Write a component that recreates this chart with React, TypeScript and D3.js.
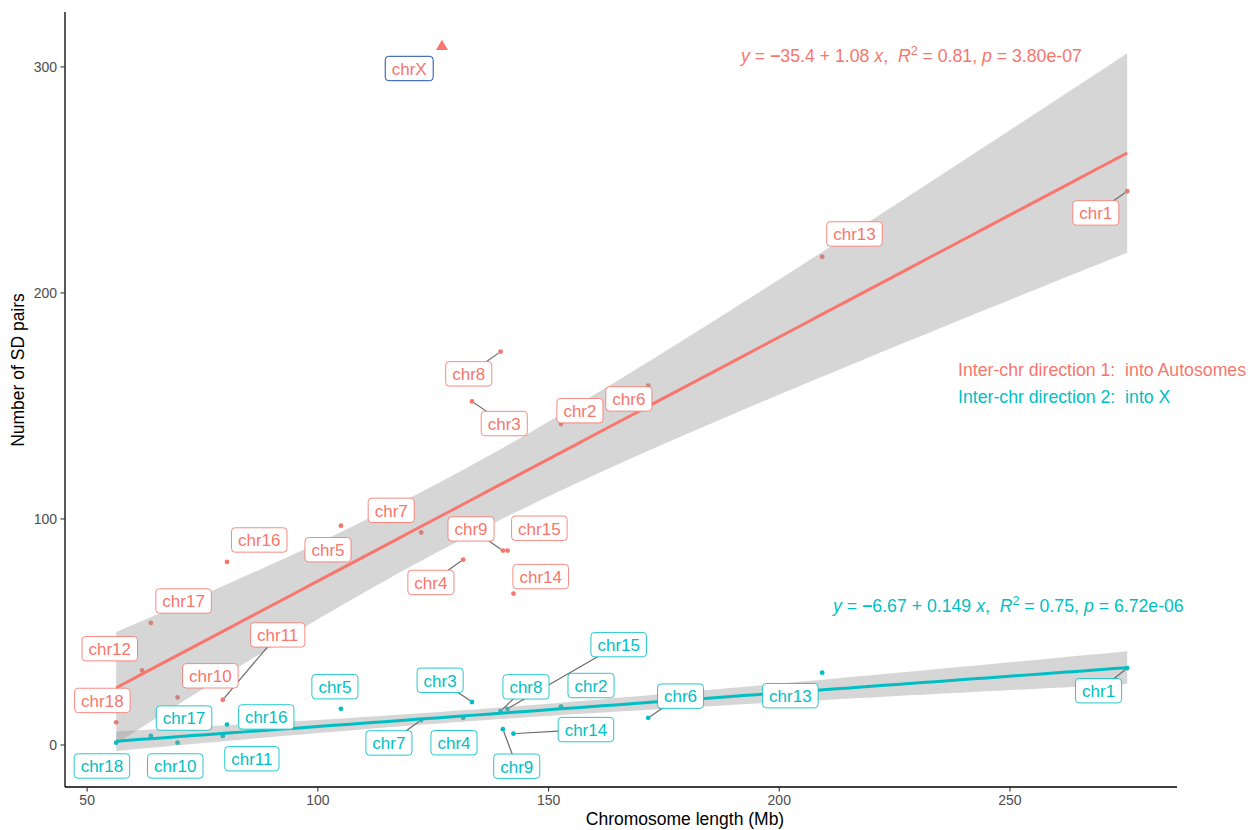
import React from 'react';
import * as d3 from 'd3';

// chromosome data
const chroms = ['chr1', 'chr2', 'chr3', 'chr4', 'chr5', 'chr6', 'chr7', 'chr8', 'chr9', 'chr10', 'chr11', 'chr12', 'chr13', 'chr14', 'chr15', 'chr16', 'chr17', 'chr18'];
const lengthMb = [275.4, 152.7, 133.4, 131.5, 105.0, 171.6, 122.4, 139.6, 140.1, 69.6, 79.4, 61.9, 209.3, 142.4, 141.1, 80.3, 63.8, 56.3];
const pairsIntoAuto = [245, 142, 152, 82, 97, 159, 94, 174, 86, 21, 20, 33, 216, 67, 86, 81, 54, 10];
const pairsIntoX = [34, 17, 19, 12, 16, 12, 11, 15, 7, 1, 4, null, 32, 5, 16, 9, 4, 1];

// repelled label anchors (data units), as placed in the figure
const autoLabX = [268.6, 156.8, 140.4, 124.5, 102.2, 167.4, 115.9, 132.7, 133.2, 76.7, 91.3, 54.9, 216.3, 148.3, 148.0, 87.3, 70.9, 53.3];
const autoLabY = [235.4, 147.9, 142.2, 71.9, 86.4, 153.1, 103.8, 164.2, 95.6, 30.6, 48.7, 42.6, 226.1, 74.5, 95.9, 90.7, 63.7, 19.7];
const xLabX = [269.2, 159.2, 126.5, 129.5, 103.7, 178.6, 115.4, 145.1, 143.1, 69.1, 85.7, null, 202.4, 158.1, 165.2, 88.8, 71.0, 53.2];
const xLabY = [24.0, 26.3, 28.6, 1.0, 25.8, 21.6, 0.9, 25.7, -9.4, -9.3, -6.1, null, 21.8, 6.8, 44.4, 12.4, 11.9, -9.3];
const autoSeg = ['chr1', 'chr8', 'chr3', 'chr9', 'chr4', 'chr11'];
const xSeg = ['chr1', 'chr6', 'chr7', 'chr3', 'chr8', 'chr15', 'chr14', 'chr9'];

const chrX = { length: 126.9, pairs: 309, labX: 119.8, labY: 299.3 };

const xTicks = [50, 100, 150, 200, 250];
const yTicks = [0, 100, 200, 300];

const RED = '#F8766D';
const CYAN = '#00BFC4';
const FONT = "'Liberation Sans', Arial, Helvetica, sans-serif";

const W = 1259;
const H = 830;
const panel = { left: 65, right: 1177, top: 12, bottom: 787 };

// t quantiles (0.975) for the df used here
const tq: Record<number, number> = { 15: 2.1314, 16: 2.1199 };

function fitLm(xs: number[], ys: number[]) {
  const n = xs.length;
  const mx = d3.mean(xs)!;
  const my = d3.mean(ys)!;
  let sxx = 0, sxy = 0;
  xs.forEach((x, i) => { sxx += (x - mx) ** 2; sxy += (x - mx) * (ys[i] - my); });
  const b = sxy / sxx;
  const a = my - b * mx;
  let sse = 0;
  xs.forEach((x, i) => { sse += (ys[i] - a - b * x) ** 2; });
  const s2 = sse / (n - 2);
  const t = tq[n - 2];
  const [lo, hi] = d3.extent(xs) as [number, number];
  const grid = d3.range(80).map(i => lo + (hi - lo) * i / 79);
  return grid.map(x => {
    const fit = a + b * x;
    const se = Math.sqrt(s2 * (1 / n + (x - mx) ** 2 / sxx));
    return { x, fit, lo: fit - t * se, hi: fit + t * se };
  });
}

let ctx: CanvasRenderingContext2D | null = null;
function textWidth(s: string, size: number) {
  if (!ctx) ctx = document.createElement('canvas').getContext('2d');
  if (!ctx) return s.length * size * 0.5;
  ctx.font = `${size}px ${FONT}`;
  return ctx.measureText(s).width;
}

const x = d3.scaleLinear().domain([45.2, 286.2]).range([panel.left, panel.right]);
const y = d3.scaleLinear().domain([-18.6, 324.3]).range([panel.bottom, panel.top]);

type Lab = { name: string; px: number; py: number; lx: number; ly: number; color: string; border: string; seg: boolean };

function Label({ d }: { d: Lab }) {
  const tw = textWidth(d.name, 17);
  const w = tw + 13;
  const h = 24.4;
  return (
    <g>
      <rect x={d.lx - w / 2} y={d.ly - h / 2} width={w} height={h} rx={3.5} ry={3.5}
        fill="#fff" stroke={d.border} strokeOpacity={d.border === d.color ? 0.85 : 1} strokeWidth={1} />
      <text x={d.lx} y={d.ly + 6.3} textAnchor="middle" fontSize={17} fill={d.color} fontFamily={FONT}>{d.name}</text>
    </g>
  );
}

function segmentPath(d: Lab) {
  const tw = textWidth(d.name, 17);
  const hw = (tw + 13) / 2;
  const hh = 12.2;
  const dx = d.lx - d.px;
  const dy = d.ly - d.py;
  // fraction along point->centre where the box edge is hit
  const tx = Math.abs(dx) > 1e-6 ? 1 - hw / Math.abs(dx) : 0;
  const ty = Math.abs(dy) > 1e-6 ? 1 - hh / Math.abs(dy) : 0;
  const t = Math.max(0, tx, ty);
  const len = Math.hypot(dx, dy);
  const s = 2.5 / len;
  return { x1: d.px + dx * s, y1: d.py + dy * s, x2: d.px + dx * t, y2: d.py + dy * t };
}

export default function App() {
  const autoIdx = chroms.map((_, i) => i);
  const xIdx = chroms.map((_, i) => i).filter(i => pairsIntoX[i] !== null);

  const autoFit = fitLm(autoIdx.map(i => lengthMb[i]), autoIdx.map(i => pairsIntoAuto[i]));
  const xFit = fitLm(xIdx.map(i => lengthMb[i]), xIdx.map(i => pairsIntoX[i] as number));

  const area = d3.area<{ x: number; lo: number; hi: number }>()
    .x(d => x(d.x)).y0(d => y(d.lo)).y1(d => y(d.hi));
  const line = d3.line<{ x: number; fit: number }>()
    .x(d => x(d.x)).y(d => y(d.fit));

  const labels: Lab[] = [
    ...autoIdx.map(i => ({
      name: chroms[i], px: x(lengthMb[i]), py: y(pairsIntoAuto[i]),
      lx: x(autoLabX[i]), ly: y(autoLabY[i]), color: RED, border: RED, seg: autoSeg.includes(chroms[i]),
    })),
    ...xIdx.map(i => ({
      name: chroms[i], px: x(lengthMb[i]), py: y(pairsIntoX[i] as number),
      lx: x(xLabX[i] as number), ly: y(xLabY[i] as number), color: CYAN, border: CYAN, seg: xSeg.includes(chroms[i]),
    })),
    { name: 'chrX', px: x(chrX.length), py: y(chrX.pairs), lx: x(chrX.labX), ly: y(chrX.labY), color: RED, border: '#1f4ea6', seg: false },
  ];

  const tri = d3.symbol().type(d3.symbolTriangle).size(62)();

  return (
    <div style={{ position: 'absolute', left: 0, top: 0 }}>
      <svg width={W} height={H} style={{ display: 'block', background: '#fff' }}>
        {/* points */}
        {autoIdx.map(i => (
          <circle key={'a' + i} cx={x(lengthMb[i])} cy={y(pairsIntoAuto[i])} r={2.4} fill={RED} />
        ))}
        {xIdx.map(i => (
          <circle key={'x' + i} cx={x(lengthMb[i])} cy={y(pairsIntoX[i] as number)} r={2.4} fill={CYAN} />
        ))}
        <path d={tri || ''} transform={`translate(${x(chrX.length)},${y(chrX.pairs)})`} fill={RED} />

        {/* smooths */}
        <path d={area(autoFit) || ''} fill="#999999" fillOpacity={0.4} />
        <path d={line(autoFit) || ''} fill="none" stroke={RED} strokeWidth={3} />
        <path d={area(xFit) || ''} fill="#999999" fillOpacity={0.4} />
        <path d={line(xFit) || ''} fill="none" stroke={CYAN} strokeWidth={3} />

        {/* repel segments */}
        {labels.filter(d => d.seg).map((d, i) => {
          const s = segmentPath(d);
          return <line key={'s' + i} {...s} stroke="#6b6b6b" strokeWidth={1.2} />;
        })}
        {labels.map((d, i) => <Label key={'l' + i} d={d} />)}

        {/* axes */}
        <line x1={panel.left} x2={panel.left} y1={panel.top} y2={panel.bottom} stroke="#000" strokeWidth={1.3} />
        <line x1={panel.left} x2={panel.right} y1={panel.bottom} y2={panel.bottom} stroke="#000" strokeWidth={1.3} />
        {xTicks.map(t => (
          <g key={'xt' + t}>
            <line x1={x(t)} x2={x(t)} y1={panel.bottom} y2={panel.bottom + 4.5} stroke="#333" strokeWidth={1.1} />
            <text x={x(t)} y={805} textAnchor="middle" fontSize={14} fill="#4D4D4D" fontFamily={FONT}>{t}</text>
          </g>
        ))}
        {yTicks.map(t => (
          <g key={'yt' + t}>
            <line x1={panel.left - 4.5} x2={panel.left} y1={y(t)} y2={y(t)} stroke="#333" strokeWidth={1.1} />
            <text x={57} y={y(t) + 5} textAnchor="end" fontSize={14} fill="#4D4D4D" fontFamily={FONT}>{t}</text>
          </g>
        ))}
        <text x={685} y={825} textAnchor="middle" fontSize={17.5} fill="#000" fontFamily={FONT}>Chromosome length (Mb)</text>
        <text transform="translate(24,370) rotate(-90)" textAnchor="middle" fontSize={17.5} fill="#000" fontFamily={FONT}>Number of SD pairs</text>

        {/* regression equations */}
        <text x={741} y={61.5} fontSize={17.7} fill={RED} fontFamily={FONT} style={{ whiteSpace: 'pre' }}>
          <tspan fontStyle="italic">y</tspan> = <tspan fontWeight="bold">−</tspan>35.4 + 1.08 <tspan fontStyle="italic">x</tspan>,  <tspan fontStyle="italic">R</tspan>
          <tspan fontSize={12.5} dy={-7}>2</tspan><tspan dy={7}> = 0.81, </tspan><tspan fontStyle="italic">p</tspan> = 3.80e-07
        </text>
        <text x={833} y={612} fontSize={17.7} fill={CYAN} fontFamily={FONT} style={{ whiteSpace: 'pre' }}>
          <tspan fontStyle="italic">y</tspan> = <tspan fontWeight="bold">−</tspan>6.67 + 0.149 <tspan fontStyle="italic">x</tspan>,  <tspan fontStyle="italic">R</tspan>
          <tspan fontSize={12.5} dy={-7}>2</tspan><tspan dy={7}> = 0.75, </tspan><tspan fontStyle="italic">p</tspan> = 6.72e-06
        </text>

        {/* legend text */}
        <text x={958} y={376} fontSize={17.7} fill={RED} fontFamily={FONT} style={{ whiteSpace: 'pre' }}>Inter-chr direction 1:  into Autosomes</text>
        <text x={958} y={403} fontSize={17.7} fill={CYAN} fontFamily={FONT} style={{ whiteSpace: 'pre' }}>Inter-chr direction 2:  into X</text>
      </svg>
    </div>
  );
}
